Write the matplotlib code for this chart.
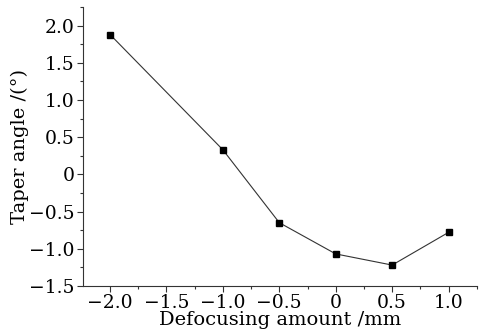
import matplotlib
matplotlib.use("Agg")
import matplotlib.pyplot as plt
from matplotlib.ticker import MultipleLocator

# data
defocus = [-2.0, -1.0, -0.5, 0.0, 0.5, 1.0]
taper = [1.88, 0.33, -0.65, -1.07, -1.22, -0.78]

plt.rcParams["font.family"] = "DejaVu Serif"
plt.rcParams["font.size"] = 13.5

fig = plt.figure(figsize=(4.88, 3.34), dpi=100)
ax = fig.add_axes([0.170, 0.144, 0.807, 0.835])

ax.plot(defocus, taper, color="#333333", linewidth=0.8,
        marker="s", markersize=5, markerfacecolor="black", markeredgecolor="black")

ax.set_xlim(-2.24, 1.25)
ax.set_ylim(-1.5, 2.25)
ax.xaxis.set_minor_locator(MultipleLocator(0.25))
ax.yaxis.set_minor_locator(MultipleLocator(0.25))

xt = [-2.0, -1.5, -1.0, -0.5, 0.0, 0.5, 1.0]
ax.set_xticks(xt)
ax.set_xticklabels(["\u22122.0", "\u22121.5", "\u22121.0", "\u22120.5", "0", "0.5", "1.0"])
yt = [-1.5, -1.0, -0.5, 0.0, 0.5, 1.0, 1.5, 2.0]
ax.set_yticks(yt)
ax.set_yticklabels(["\u22121.5", "\u22121.0", "\u22120.5", "0", "0.5", "1.0", "1.5", "2.0"])

for s in ["top", "right"]:
    ax.spines[s].set_visible(False)
for s in ["left", "bottom"]:
    ax.spines[s].set_linewidth(0.8)
    ax.spines[s].set_color("#333333")

ax.tick_params(which="major", direction="out", length=4, width=0.8, color="#333333", pad=2)
ax.tick_params(which="minor", direction="out", length=2.5, width=0.8, color="#333333")

ax.set_xlabel("Defocusing amount /mm", fontsize=14, labelpad=-1)
ax.set_ylabel("Taper angle /(\u00b0)", fontsize=14, labelpad=0)

fig.savefig("out.png", dpi=100)
